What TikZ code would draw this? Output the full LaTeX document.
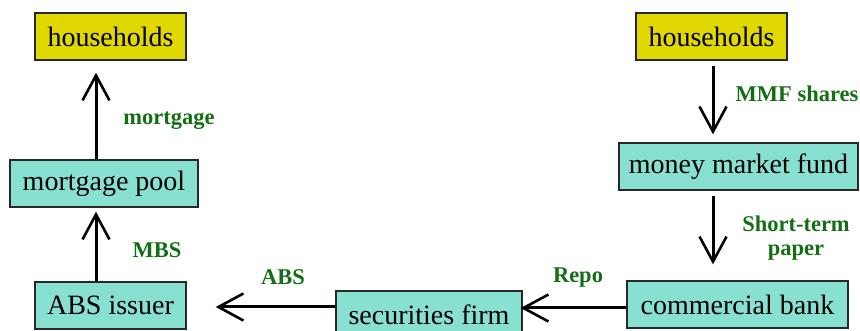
\documentclass[tikz,border=0pt]{standalone}
\usepackage{fontspec}
\setmainfont{Liberation Serif}
\usetikzlibrary{arrows.meta}
\definecolor{hhyellow}{RGB}{224,216,0}
\definecolor{boxteal}{RGB}{136,224,208}
\definecolor{lblgreen}{RGB}{20,110,20}
\definecolor{edgegray}{RGB}{40,40,40}
\tikzset{
  box/.style={draw=edgegray, line width=1.4pt, inner sep=0pt, minimum height=47pt,
    font=\fontsize{28}{30}\selectfont, text=black},
  yellowbox/.style={box, fill=hhyellow},
  tealbox/.style={box, fill=boxteal},
  flow/.style={line width=3pt, -{Straight Barb[length=25pt,width=27pt,line width=2.6pt]}},
  lbl/.style={font=\fontsize{22.5}{26}\selectfont\bfseries, text=lblgreen, inner sep=0pt, align=center}
}
\begin{document}
\begin{tikzpicture}[x=1pt,y=-1pt]
\useasboundingbox (0,0) rectangle (860,331);
\node[yellowbox, minimum width=151pt] (hhL) at (110.5,36.5) {households};
\node[tealbox, minimum width=188pt] (pool) at (104,183.5) {mortgage pool};
\node[tealbox, minimum width=151pt] (abs) at (110.5,305.5) {ABS issuer};
\node[yellowbox, minimum width=151pt] (hhR) at (711.5,36.5) {households};
\node[tealbox, minimum width=239pt] (mmf) at (738.5,166.5) {money market fund};
\node[tealbox, minimum width=221pt] (bank) at (737.5,304.5) {commercial bank};
\node[tealbox, minimum width=186pt] (sec) at (429,314.5) {securities firm};

\draw[flow, shorten >=12pt] ([xshift=-14.5pt]hhL.south |- pool.north) -- ([xshift=-14.5pt]hhL.south);
\draw[flow, shorten >=4pt] ([xshift=-8pt]pool.south |- abs.north) -- ([xshift=-8pt]pool.south);
\draw[flow, shorten <=5pt, shorten >=8pt] ([xshift=1.5pt]hhR.south) -- ([xshift=1.5pt]hhR.south |- mmf.north);
\draw[flow, shorten <=5pt, shorten >=16pt] ([xshift=1.5pt]hhR.south |- mmf.south) -- ([xshift=1.5pt]hhR.south |- bank.north);
\draw[flow, shorten >=-2pt] ([yshift=-3.5pt]bank.west) -- ([yshift=-3.5pt]bank.west -| sec.east);
\draw[flow, shorten >=29pt] ([yshift=-1.5pt]abs.east -| sec.west) -- ([yshift=-1.5pt]abs.east);

\node[lbl] (lmort) at (169,121) {mortgage};
\node[lbl] (lmbs) at (157,250) {MBS};
\node[lbl] (labs) at (283,277) {ABS};
\node[lbl] (lrepo) at (578,278) {Repo};
\node[lbl] (lmmf) at (797,94) {MMF shares};
\node[lbl] (lstp) at (796,238) {Short-term\\[-2pt]paper};
\end{tikzpicture}
\end{document}
